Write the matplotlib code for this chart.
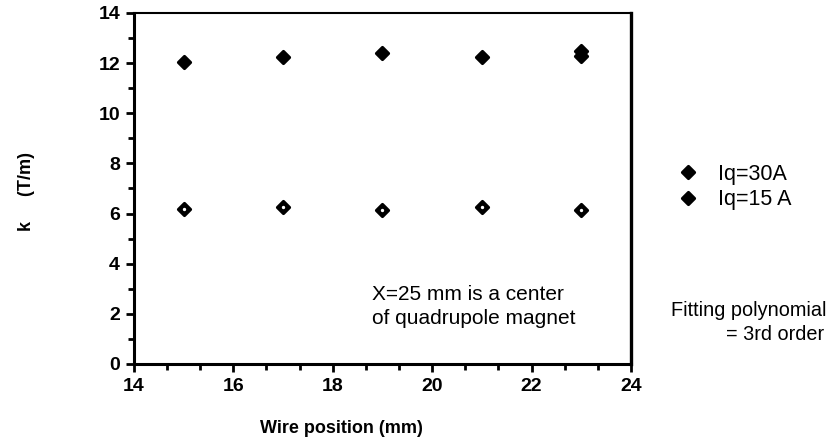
import matplotlib
matplotlib.use("Agg")
import matplotlib.pyplot as plt
from matplotlib.markers import MarkerStyle
from matplotlib.ticker import MultipleLocator

plt.rcParams['font.family'] = ['Liberation Sans', 'DejaVu Sans']

# data
pos_30 = [15, 17, 19, 21, 23, 23]
k_30 = [12.05, 12.25, 12.4, 12.25, 12.3, 12.5]
pos_15 = [15, 17, 19, 21, 23]
k_15 = [6.2, 6.25, 6.15, 6.25, 6.15]

x_ticks = [14, 16, 18, 20, 22, 24]
y_ticks = [0, 2, 4, 6, 8, 10, 12, 14]

fig = plt.figure(figsize=(8.3, 4.46), dpi=100)
ax = fig.add_axes([0.1614, 0.1839, 0.5988, 0.787])

diamond = MarkerStyle('D', joinstyle='round')
mk = dict(marker=diamond, markersize=6.3, color='black', linestyle='none',
          markeredgewidth=2.3, markeredgecolor='black')
h30, = ax.plot(pos_30, k_30, label='Iq=30A', **mk)
h15, = ax.plot(pos_15, k_15, label='Iq=15 A', **mk)
ax.plot(pos_15, k_15, marker='o', markersize=1.4, color='white',
        linestyle='none')

ax.set_xlim(14, 24)
ax.set_ylim(0, 14)
ax.set_xticks(x_ticks)
ax.set_yticks(y_ticks)
ax.xaxis.set_minor_locator(MultipleLocator(2 / 3))
ax.yaxis.set_minor_locator(MultipleLocator(1))
ax.tick_params(which='major', direction='out', length=6, width=2,
               labelsize=14, pad=4)
ax.tick_params(which='minor', direction='out', length=4, width=2)
for lab in ax.get_xticklabels() + ax.get_yticklabels():
    lab.set_fontweight('bold')

ax.spines['left'].set_linewidth(2.2)
ax.spines['bottom'].set_linewidth(2.2)
ax.spines['right'].set_linewidth(2.4)
ax.spines['top'].set_linewidth(1.5)

ax.set_xlabel('Wire position (mm)', fontsize=13, fontweight='bold')
ax.xaxis.set_label_coords(0.418, -0.16)
ax.set_ylabel('k     (T/m)', fontsize=13, fontweight='bold')
ax.yaxis.set_label_coords(-0.2, 0.49)

ax.text(0.478, 0.225, 'X=25 mm is a center\nof quadrupole magnet',
        transform=ax.transAxes, fontsize=15, va='top', ha='left',
        linespacing=1.3)

ax.legend(handles=[h30, h15], loc='upper left', bbox_to_anchor=(1.075, 0.595),
          frameon=False, fontsize=15.5, handlelength=1.0, handletextpad=0.9,
          labelspacing=0.2, numpoints=1, borderaxespad=0)

fig.text(0.808, 0.325, 'Fitting polynomial\n          = 3rd order', fontsize=14.3,
         va='top', ha='left', linespacing=1.3)

fig.savefig('out.png', dpi=100)
